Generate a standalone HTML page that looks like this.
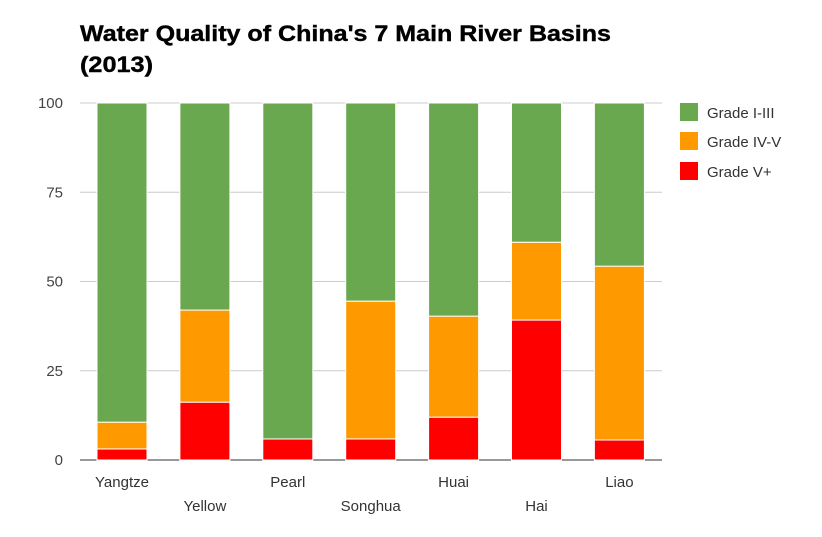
<!DOCTYPE html>
<html><head><meta charset="utf-8"><style>
body{margin:0;background:#fff;font-family:"Liberation Sans",Arial,sans-serif}
svg{display:block}
</style></head><body>
<svg id="c" width="822" height="537" xmlns="http://www.w3.org/2000/svg">
<text x="80" y="41" font-size="22" font-weight="bold" fill="#000" textLength="531" lengthAdjust="spacingAndGlyphs" stroke="#000" stroke-width="0.4">Water Quality of China's 7 Main River Basins</text>
<text x="80" y="72" font-size="22" font-weight="bold" fill="#000" textLength="73" lengthAdjust="spacingAndGlyphs" stroke="#000" stroke-width="0.4">(2013)</text>
<g id="grid"></g><g id="bars"></g><g id="xl"></g>
<g>
<rect x="680" y="103" width="18" height="18" fill="#6aa84f"/>
<text x="707" y="118" font-size="15" fill="#333">Grade I-III</text>
<rect x="680" y="132" width="18" height="18" fill="#ff9900"/>
<text x="707" y="147" font-size="15" fill="#333">Grade IV-V</text>
<rect x="680" y="162" width="18" height="18" fill="#ff0000"/>
<text x="707" y="177" font-size="15" fill="#333">Grade V+</text>
</g>
</svg>
<script>
const categories=["Yangtze","Yellow","Pearl","Songhua","Huai","Hai","Liao"];
const gradeVplus=[3.1,16.2,5.9,5.9,12,39.2,5.6];
const gradeIVV=[7.5,25.8,0,38.6,28.3,21.8,48.7];
const ticks=[0,25,50,75,100];
const NS="http://www.w3.org/2000/svg";
const y0=460,y1=103,x0=80,x1=662;
const y=v=>y0-(v/100)*(y0-y1);
const step=82.9,bw=50,bx=i=>97+i*step;
function mk(t,a,p){const e=document.createElementNS(NS,t);for(const k in a)e.setAttribute(k,a[k]);p.appendChild(e);return e;}
const g=document.getElementById('grid');
ticks.forEach(t=>{
  const l=mk('line',{x1:x0,x2:x1,y1:y(t),y2:y(t),stroke:t===0?'#333':'#ccc','stroke-width':1},g);
  
  
  const tx=mk('text',{x:63,y:y(t)+5,'font-size':15,fill:'#444','text-anchor':'end'},g);
  tx.textContent=t;
  
  
});
const b=document.getElementById('bars'),xl=document.getElementById('xl');
categories.forEach((c,i)=>{
  const r=gradeVplus[i],o=gradeIVV[i];
  const segs=[[0,r,'#ff0000','red'],[r,r+o,'#ff9900','orange'],[r+o,100,'#6aa84f','green']];
  segs.forEach(s=>{
    if(s[1]-s[0]<=0)return;
    const e=mk('rect',{x:bx(i),y:y(s[1]),width:bw,height:y(s[0])-y(s[1]),fill:s[2],stroke:'#fff','stroke-width':1},b);
    
    
  });
  const t=mk('text',{x:bx(i)+bw/2,y:i%2?511:487,'font-size':15,fill:'#333','text-anchor':'middle'},xl);
  t.textContent=c;
  
  
});
</script>
</body></html>
